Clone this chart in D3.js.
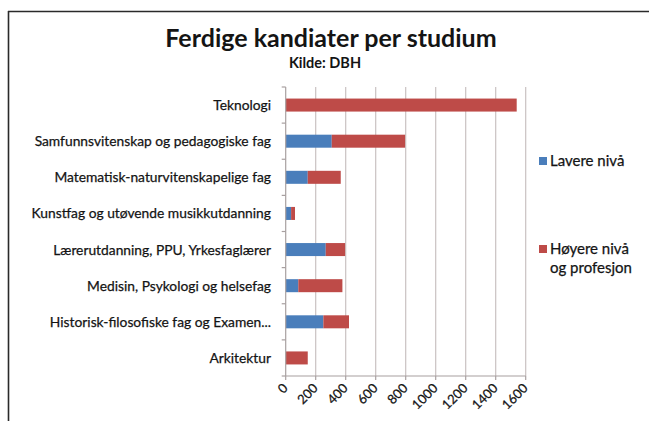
<!DOCTYPE html>
<html>
<head>
<meta charset="utf-8">
<script src="https://cdn.jsdelivr.net/npm/d3@7"></script>
<style>
  html, body { margin: 0; padding: 0; background: #fff; }
  svg { display: block; }
  text { font-family: Lato, "Open Sans", sans-serif; fill: #141414; }
</style>
</head>
<body>
<svg id="chart" width="649" height="421"></svg>
<script>
const categories = [
  "Teknologi",
  "Samfunnsvitenskap og pedagogiske fag",
  "Matematisk-naturvitenskapelige fag",
  "Kunstfag og utøvende musikkutdanning",
  "Lærerutdanning, PPU, Yrkesfaglærer",
  "Medisin, Psykologi og helsefag",
  "Historisk-filosofiske fag  og Examen...",
  "Arkitektur"
];
const lavereNiva = [0, 307, 147, 36, 267, 84, 251, 0];
const hoyereNiva = [1540, 489, 220, 26, 129, 294, 171, 147];
const seriesNames = ["Lavere nivå", "Høyere nivå og profesjon"];
const seriesColors = ["#4a7ebb", "#be4b48"];
const xTicks = [0, 200, 400, 600, 800, 1000, 1200, 1400, 1600];

const svg = d3.select("#chart");

// outer frame (top and left edges visible)
svg.append("line").attr("x1", 8).attr("x2", 649).attr("y1", 11.5).attr("y2", 11.5)
  .attr("stroke", "#2a2a2a").attr("stroke-width", 1.6);
svg.append("line").attr("x1", 8.5).attr("x2", 8.5).attr("y1", 11).attr("y2", 421)
  .attr("stroke", "#2a2a2a").attr("stroke-width", 1.6);

// titles
svg.append("text").attr("x", 331).attr("y", 47).attr("text-anchor", "middle")
  .attr("font-weight", "bold").attr("font-size", 25).text("Ferdige kandiater per studium");
svg.append("text").attr("x", 325).attr("y", 68).attr("text-anchor", "middle")
  .attr("font-weight", "bold").attr("font-size", 14.5).text("Kilde: DBH");

const margin = { left: 285.7, right: 525.7, top: 87, bottom: 376 };

const x = d3.scaleLinear().domain([0, 1600]).range([margin.left, margin.right]);
const y = d3.scaleBand().domain(categories).range([margin.top, margin.bottom]).paddingInner(0.64).paddingOuter(0.32);

// gridlines
svg.append("g").selectAll("line").data(xTicks.slice(1)).join("line")
  .attr("x1", d => x(d)).attr("x2", d => x(d))
  .attr("y1", margin.top).attr("y2", margin.bottom)
  .attr("stroke", "#c9c1c1").attr("stroke-width", 1.2);

// stacked bars
const rows = categories.map((c, i) => ({ cat: c, v: [lavereNiva[i], hoyereNiva[i]] }));
const stack = d3.stack().keys([0, 1]).value((d, k) => d.v[k]);
const stacked = stack(rows);

svg.append("g").selectAll("g").data(stacked).join("g")
  .attr("fill", (d, i) => seriesColors[i])
  .selectAll("rect").data(d => d).join("rect")
  .attr("x", d => x(d[0]))
  .attr("width", d => x(d[1]) - x(d[0]))
  .attr("y", d => y(d.data.cat))
  .attr("height", y.bandwidth());

// y axis
const yBoundaries = d3.range(categories.length + 1).map(i => margin.top + i * (margin.bottom - margin.top) / categories.length);
const yAxisG = svg.append("g");
yAxisG.append("line").attr("x1", margin.left).attr("x2", margin.left)
  .attr("y1", margin.top).attr("y2", margin.bottom).attr("stroke", "#a8a0a0").attr("stroke-width", 1.2);
yAxisG.selectAll("line.tick").data(yBoundaries).join("line").attr("class", "tick")
  .attr("x1", margin.left - 4).attr("x2", margin.left)
  .attr("y1", d => d).attr("y2", d => d).attr("stroke", "#a8a0a0").attr("stroke-width", 1.2);
yAxisG.selectAll("text").data(categories).join("text")
  .attr("x", 271).attr("y", d => y(d) + y.bandwidth() / 2 + 5)
  .attr("text-anchor", "end").attr("font-size", 13.8)
  .attr("stroke", "#141414").attr("stroke-width", 0.25).text(d => d);

// x axis
const xAxisG = svg.append("g");
xAxisG.append("line").attr("x1", margin.left).attr("x2", margin.right)
  .attr("y1", margin.bottom).attr("y2", margin.bottom).attr("stroke", "#a8a0a0").attr("stroke-width", 1.2);
xAxisG.selectAll("line.tick").data(xTicks).join("line").attr("class", "tick")
  .attr("x1", d => x(d)).attr("x2", d => x(d))
  .attr("y1", margin.bottom).attr("y2", margin.bottom + 4).attr("stroke", "#a8a0a0").attr("stroke-width", 1.2);
xAxisG.selectAll("text").data(xTicks).join("text")
  .attr("transform", d => `translate(${x(d) + 3},${margin.bottom + 13}) rotate(-45)`)
  .attr("text-anchor", "end").attr("font-size", 13)
  .attr("stroke", "#141414").attr("stroke-width", 0.25).text(d => d);

// legend
const legendItems = [
  { lines: ["Lavere nivå"], y: 166, color: seriesColors[0] },
  { lines: ["Høyere nivå", "og profesjon"], y: 254, color: seriesColors[1] }
];
const lg = svg.append("g");
legendItems.forEach(it => {
  lg.append("rect").attr("x", 539).attr("y", it.y - 9).attr("width", 8).attr("height", 8).attr("fill", it.color);
  it.lines.forEach((t, j) => {
    lg.append("text").attr("x", 550).attr("y", it.y + j * 18.5).attr("font-size", 15)
      .attr("stroke", "#141414").attr("stroke-width", 0.25).text(t);
  });
});
</script>
</body>
</html>
